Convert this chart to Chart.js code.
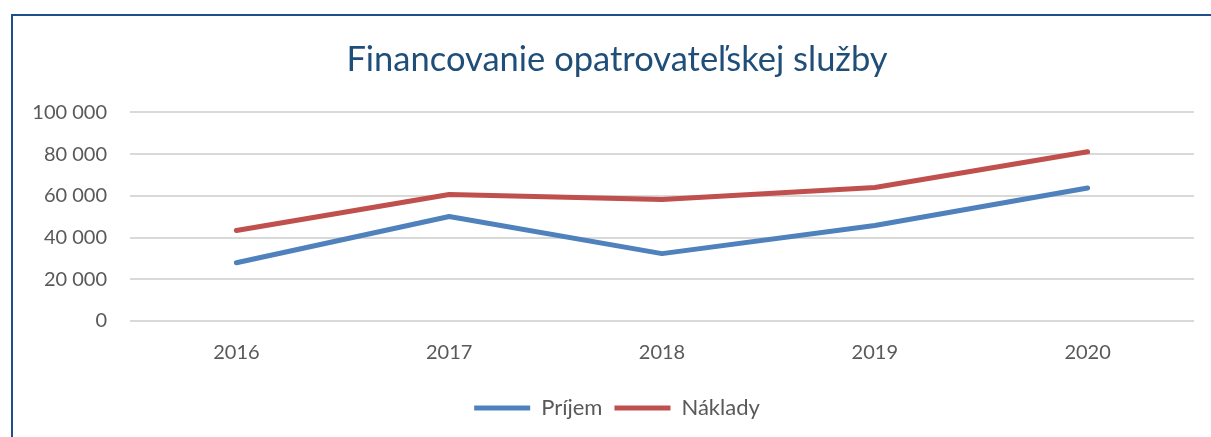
<!DOCTYPE html>
<html>
<head>
<meta charset="utf-8">
<script src="https://cdn.jsdelivr.net/npm/chart.js@4/dist/chart.umd.min.js"></script>
<style>
  html, body { margin: 0; padding: 0; background: #fff; }
  #wrap { position: relative; width: 1211px; height: 437px; overflow: hidden; }
  #graf { position: absolute; left: 0; top: 0; }
  #ram {
    position: absolute; left: 11px; top: 14px; width: 1300px; height: 600px;
    border-left: 2px solid #1f4e8c; border-top: 2px solid #1f4e8c;
    pointer-events: none;
  }
</style>
</head>
<body>
<div id="wrap">
  <canvas id="graf" width="1211" height="437"></canvas>
  <div id="ram"></div>
</div>
<script>
// roky a hodnoty odčítané z grafu
const roky = ['2016', '2017', '2018', '2019', '2020'];
const prijem = [27900, 50100, 32300, 45800, 63800];
const naklady = [43400, 60600, 58300, 64000, 81100];
const yTicks = [0, 20000, 40000, 60000, 80000, 100000];

function formatCislo(v) {
    // medzera ako oddeľovač tisícov
    return String(v).replace(/\B(?=(\d{3})+(?!\d))/g, ' ');
}

// os Y je užšia ako popisky, aby bol nadpis posunutý doprava ako v origináli
const rozsirOsY = {
    id: 'rozsirOsY',
    afterLayout(chart) {
        chart.scales.y.left = 0;
    }
};

const config = {
    type: 'line',
    data: {
        labels: roky,
        datasets: [{
            label: 'Príjem',
            data: prijem,
            borderColor: '#4f81bd',
            backgroundColor: '#4f81bd',
            borderWidth: 5,
            borderCapStyle: 'round',
            borderJoinStyle: 'round',
            pointRadius: 0,
            tension: 0
        }, {
            label: 'Náklady',
            data: naklady,
            borderColor: '#c0504d',
            backgroundColor: '#c0504d',
            borderWidth: 5,
            borderCapStyle: 'round',
            borderJoinStyle: 'round',
            pointRadius: 0,
            tension: 0
        }]
    },
    options: {
        responsive: false,
        animation: false,
        layout: { padding: { left: 40, right: 17, top: 27, bottom: 8 } },
        scales: {
            x: {
                offset: true,
                grid: { display: false, drawTicks: false },
                border: { display: false },
                ticks: { color: '#595959', font: { family: 'Lato', size: 20 }, padding: 20 }
            },
            y: {
                min: 0,
                max: 100000,
                afterBuildTicks: axis => { axis.ticks = yTicks.map(v => ({ value: v })); },
                afterFit: axis => { axis.width = 90; },
                grid: { color: '#d9d9d9', lineWidth: 2, drawTicks: false },
                border: { display: false },
                ticks: {
                    color: '#595959',
                    font: { family: 'Lato', size: 20 },
                    padding: 23,
                    callback: v => formatCislo(v)
                }
            }
        },
        plugins: {
            title: {
                display: true,
                text: 'Financovanie opatrovateľskej služby',
                color: '#1f4e79',
                font: { family: 'Lato', size: 34.5, weight: 'normal' },
                padding: { top: 12, bottom: 32 }
            },
            legend: {
                position: 'bottom',
                labels: {
                    usePointStyle: true,
                    pointStyle: 'line',
                    pointStyleWidth: 56,
                    boxHeight: 20,
                    color: '#595959',
                    font: { family: 'Lato', size: 22 },
                    padding: 12
                }
            },
            tooltip: { enabled: false }
        }
    },
    plugins: [rozsirOsY]
};

const ctx = document.getElementById('graf').getContext('2d');
new Chart(ctx, config);
</script>
</body>
</html>
